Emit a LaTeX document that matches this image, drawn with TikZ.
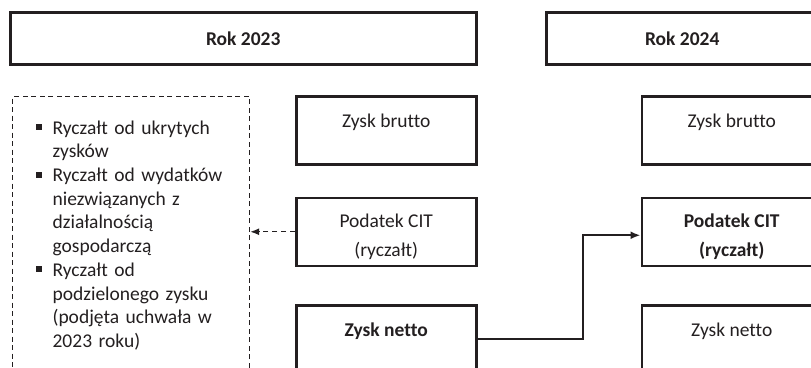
\documentclass[tikz,border=0pt]{standalone}
\usepackage{fontspec}
\setmainfont{Carlito}[Ligatures=CommonOff]
\usetikzlibrary{positioning,arrows.meta}

\definecolor{ink}{RGB}{35,31,32}
\newcommand{\bul}{\makebox[17pt][l]{\rule[4pt]{6pt}{6pt}}}
\newcommand{\ind}{\hspace*{17pt}}

\tikzset{
  txt/.style={font=\fontsize{19.5}{23.7}\selectfont, text=ink},
  year/.style={txt, draw=ink, line width=2.5pt, minimum height=52pt, font=\fontsize{19.5}{23.7}\selectfont\bfseries},
  box/.style={txt, draw=ink, line width=2.5pt, minimum width=180pt, minimum height=68pt,
    align=center, text height=15pt, text depth=21pt},
  twoline/.style={text height=54pt, text depth=4pt},
  list/.style={txt, draw=ink, line width=1.2pt, dash pattern=on 5pt off 3.5pt,
    minimum width=237pt, minimum height=272pt, inner xsep=23pt, text width=191pt,
    align=left, text height=19pt},
  link/.style={draw=ink, line width=2pt, -{Latex[length=10pt,width=8pt]}},
  hint/.style={draw=ink, line width=1.3pt, dash pattern=on 5pt off 4pt, -{Latex[length=9pt,width=7pt]}}
}

\begin{document}
\begin{tikzpicture}[x=1pt, y=-1pt, node distance=31pt]

  \useasboundingbox (0,0) rectangle (811,367);

  % Define nodes
  \node[year, minimum width=466pt, anchor=north west] (rok-2023) at (9,11) {Rok 2023};
  \node[year, minimum width=272pt, anchor=north west] (rok-2024) at (545,11) {Rok 2024};

  \node[box, anchor=north west]          (brutto-a) at (295,95) {Zysk brutto};
  \node[box, twoline, below=of brutto-a] (cit-a)    {Podatek CIT\\[6pt](ryczałt)};
  \node[box, below=37pt of cit-a]        (netto-a)  {\bfseries Zysk netto};

  \node[box, right=163pt of brutto-a]        (brutto-b) {Zysk brutto};
  \node[box, twoline, right=163pt of cit-a]  (cit-b)    {\bfseries Podatek CIT\\[6pt]\bfseries (ryczałt)};
  \node[box, right=163pt of netto-a]         (netto-b)  {Zysk netto};

  \node[list, anchor=north west] (forms) at (12,96) {%
    \bul Ryczałt od ukrytych\\
    \ind zysków\\
    \bul Ryczałt od wydatków\\
    \ind niezwiązanych z\\
    \ind działalnością\\
    \ind gospodarczą\\
    \bul Ryczałt od\\
    \ind podzielonego zysku\\
    \ind (podjęta uchwała w\\
    \ind 2023 roku)};

  % Connect the nodes
  \draw[hint] (cit-a.west) -- (cit-a.west -| forms.east);
  \draw[link] (netto-a.east) -- ++(105,0) |- ([yshift=-3.5pt]cit-b.west);

\end{tikzpicture}
\end{document}
